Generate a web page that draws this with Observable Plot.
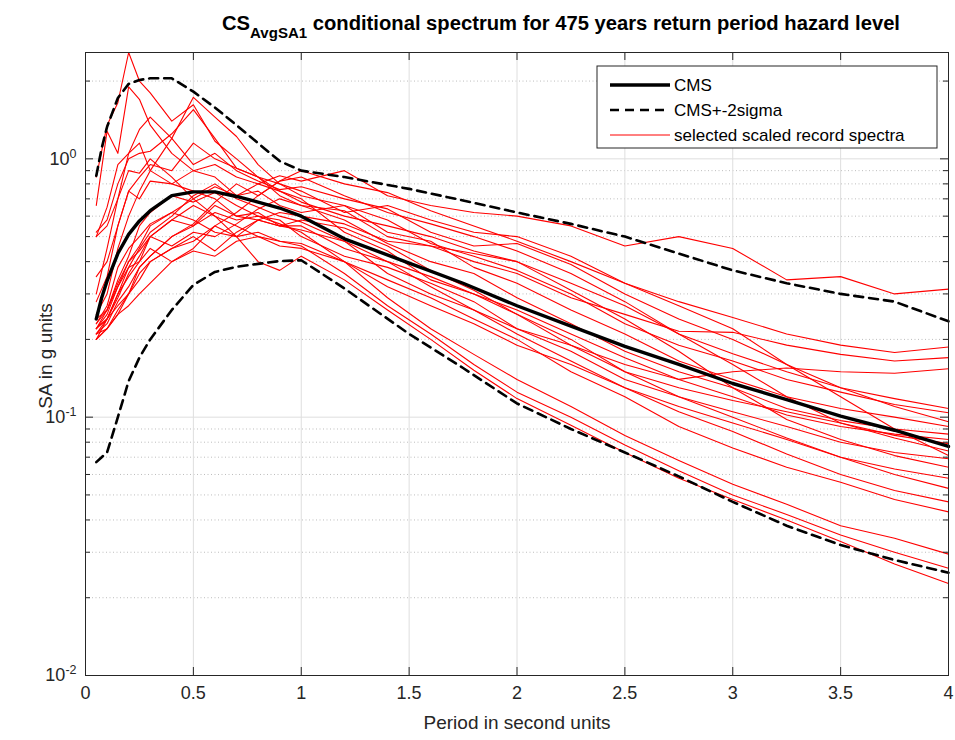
<!DOCTYPE html>
<html>
<head>
<meta charset="utf-8">
<script src="https://cdn.jsdelivr.net/npm/d3@7"></script>
<script src="https://cdn.jsdelivr.net/npm/@observablehq/plot@0.6"></script>
<style>
  body { margin: 0; background: #fff; font-family: "Liberation Sans", Arial, sans-serif; }
  #title { position: relative; width: 955px; height: 45px; }
  #ttl { position: absolute; left: 222px; top: 12px; font-weight: bold; font-size: 19.5px; color: #000;
         white-space: nowrap; transform-origin: 0 0; }
  #ttl sub { font-size: 14.5px; vertical-align: -8px; }
  #chart svg { display: block; }
</style>
</head>
<body>
<div id="title"><div id="ttl">CS<sub>AvgSA1</sub> conditional spectrum for 475 years return period hazard level</div></div>
<div id="chart"></div>
<script>
// ---- axis ticks ----
const xTicks = [0, 0.5, 1, 1.5, 2, 2.5, 3, 3.5, 4];
const yMajor = [0.01, 0.1, 1];
const yMinor = [0.02, 0.03, 0.04, 0.05, 0.06, 0.07, 0.08, 0.09, 0.2, 0.3, 0.4, 0.5, 0.6, 0.7, 0.8, 0.9, 2];

// ---- conditional mean spectrum and +-2 sigma ----
const T = [0.05, 0.075, 0.1, 0.15, 0.2, 0.25, 0.3, 0.4, 0.5, 0.6, 0.7, 0.8, 0.9, 1.0, 1.2, 1.5, 1.75, 2.0, 2.25, 2.5, 2.75, 3.0, 3.25, 3.5, 3.75, 4.0];
const cms = [0.24, 0.29, 0.337, 0.43, 0.51, 0.575, 0.63, 0.72, 0.745, 0.745, 0.715, 0.68, 0.645, 0.60, 0.49, 0.395, 0.33, 0.27, 0.225, 0.188, 0.16, 0.135, 0.117, 0.101, 0.089, 0.077];
const upper = [0.86, 1.10, 1.33, 1.72, 1.95, 2.02, 2.05, 2.05, 1.82, 1.58, 1.35, 1.15, 0.98, 0.90, 0.85, 0.765, 0.69, 0.62, 0.56, 0.50, 0.43, 0.37, 0.33, 0.30, 0.28, 0.235];
const lower = [0.067, 0.070, 0.073, 0.100, 0.138, 0.17, 0.20, 0.26, 0.325, 0.365, 0.382, 0.392, 0.402, 0.405, 0.315, 0.21, 0.155, 0.113, 0.09, 0.073, 0.059, 0.047, 0.038, 0.032, 0.028, 0.025];

// ---- selected scaled record spectra ----
const Tr = [0.05, 0.1, 0.15, 0.2, 0.25, 0.3, 0.4, 0.5, 0.6, 0.7, 0.8, 0.9, 1.0, 1.2, 1.4, 1.6, 1.8, 2.0, 2.25, 2.5, 2.75, 3.0, 3.25, 3.5, 3.75, 4.0];
const rec01 = [0.23,0.27,0.38,0.45,0.50,0.56,0.62,0.70,0.78,0.72,0.80,0.86,0.82,0.90,0.72,0.66,0.62,0.60,0.55,0.46,0.50,0.45,0.34,0.35,0.30,0.313];
const rec02 = [0.28,0.35,0.55,0.75,0.85,0.95,0.90,1.15,1.00,0.92,0.85,0.80,0.75,0.62,0.66,0.58,0.52,0.50,0.42,0.33,0.28,0.243,0.21,0.19,0.178,0.187];
const rec03 = [0.22,0.26,0.33,0.40,0.44,0.50,0.58,0.55,0.66,0.60,0.58,0.62,0.60,0.56,0.48,0.46,0.40,0.36,0.29,0.25,0.215,0.213,0.19,0.175,0.165,0.17];
const rec04 = [0.50,0.65,0.95,1.05,1.15,0.90,0.80,0.75,0.70,0.60,0.62,0.55,0.55,0.45,0.40,0.35,0.30,0.25,0.19,0.16,0.14,0.15,0.155,0.15,0.148,0.154];
const rec05 = [0.85,1.35,1.65,2.58,2.00,1.80,1.40,1.62,1.17,1.00,0.85,0.75,0.68,0.60,0.55,0.50,0.44,0.40,0.33,0.27,0.21,0.176,0.15,0.13,0.118,0.108];
const rec06 = [0.66,1.28,1.05,1.90,1.70,1.35,1.05,0.90,0.85,0.72,0.75,0.66,0.62,0.66,0.58,0.47,0.42,0.37,0.30,0.23,0.19,0.165,0.14,0.125,0.112,0.104];
const rec07 = [0.25,0.30,0.45,0.60,0.75,0.90,1.20,1.73,1.45,1.22,0.95,0.80,0.72,0.66,0.52,0.48,0.38,0.33,0.26,0.21,0.165,0.14,0.12,0.108,0.10,0.092];
const rec08 = [0.52,0.58,0.80,1.00,1.05,1.07,1.25,1.55,1.20,0.92,0.85,0.72,0.66,0.58,0.47,0.40,0.36,0.29,0.23,0.18,0.15,0.13,0.108,0.097,0.09,0.086];
const rec09 = [0.35,0.40,0.55,0.75,0.70,0.82,0.80,0.90,0.95,0.85,0.80,0.75,0.70,0.52,0.44,0.34,0.30,0.26,0.21,0.17,0.14,0.12,0.102,0.092,0.086,0.082];
const rec10 = [0.22,0.24,0.27,0.30,0.34,0.40,0.45,0.50,0.44,0.52,0.58,0.55,0.53,0.48,0.36,0.30,0.26,0.22,0.19,0.15,0.13,0.116,0.105,0.095,0.085,0.079];
const rec11 = [0.21,0.23,0.28,0.32,0.38,0.42,0.50,0.56,0.68,0.80,0.72,0.82,0.85,0.72,0.62,0.56,0.50,0.44,0.36,0.28,0.21,0.16,0.12,0.095,0.083,0.074];
const rec12 = [0.24,0.26,0.34,0.42,0.55,0.62,0.72,0.68,0.74,0.66,0.60,0.58,0.50,0.42,0.38,0.33,0.28,0.22,0.18,0.14,0.12,0.105,0.092,0.08,0.073,0.069];
const rec13 = [0.20,0.24,0.30,0.35,0.40,0.50,0.46,0.52,0.50,0.56,0.64,0.70,0.66,0.63,0.50,0.46,0.43,0.40,0.31,0.24,0.18,0.13,0.098,0.082,0.071,0.064];
const rec14 = [0.30,0.45,0.70,0.90,0.88,1.00,0.85,0.70,0.60,0.50,0.52,0.48,0.47,0.40,0.32,0.27,0.23,0.19,0.16,0.13,0.11,0.095,0.082,0.07,0.063,0.058];
const rec15 = [0.20,0.22,0.26,0.30,0.36,0.40,0.45,0.48,0.55,0.50,0.58,0.55,0.58,0.54,0.46,0.37,0.31,0.25,0.20,0.15,0.12,0.10,0.083,0.07,0.06,0.053];
const rec16 = [0.22,0.24,0.30,0.38,0.45,0.52,0.60,0.72,0.80,0.70,0.65,0.60,0.57,0.48,0.40,0.32,0.26,0.21,0.165,0.13,0.105,0.088,0.072,0.06,0.052,0.047];
const rec17 = [0.21,0.22,0.25,0.27,0.30,0.33,0.40,0.44,0.42,0.48,0.50,0.46,0.45,0.40,0.34,0.29,0.24,0.20,0.15,0.12,0.092,0.076,0.064,0.056,0.048,0.043];
const rec18 = [0.20,0.22,0.25,0.30,0.38,0.42,0.50,0.55,0.62,0.58,0.60,0.56,0.52,0.40,0.29,0.22,0.175,0.14,0.11,0.085,0.068,0.055,0.046,0.038,0.034,0.0295];
const rec19 = [0.21,0.24,0.29,0.36,0.42,0.50,0.58,0.66,0.60,0.55,0.50,0.48,0.46,0.36,0.27,0.21,0.16,0.125,0.10,0.078,0.062,0.05,0.042,0.035,0.03,0.026];
const rec20 = [0.22,0.25,0.32,0.40,0.46,0.55,0.62,0.58,0.52,0.50,0.40,0.37,0.42,0.34,0.26,0.20,0.152,0.118,0.093,0.073,0.058,0.048,0.04,0.033,0.027,0.0227];
const rec21 = [0.50,0.55,0.70,1.05,1.30,1.45,1.20,0.95,1.05,0.90,0.82,0.76,0.78,0.70,0.64,0.52,0.46,0.47,0.39,0.30,0.24,0.20,0.16,0.13,0.11,0.096];
const rec22 = [0.23,0.26,0.32,0.38,0.40,0.45,0.40,0.45,0.55,0.62,0.72,0.82,0.90,0.80,0.74,0.63,0.55,0.48,0.40,0.33,0.27,0.22,0.16,0.12,0.09,0.071];
const records = [rec01, rec02, rec03, rec04, rec05, rec06, rec07, rec08, rec09, rec10, rec11,
                 rec12, rec13, rec14, rec15, rec16, rec17, rec18, rec19, rec20, rec21, rec22];

// ---- build tables ----
const recRows = records.flatMap((r, i) => r.map((v, j) => ({T: Tr[j], v, id: i})));
const cmsRows = T.map((t, i) => ({T: t, v: cms[i]}));
const bandRows = [
  ...T.map((t, i) => ({T: t, v: upper[i], k: "up"})),
  ...T.map((t, i) => ({T: t, v: lower[i], k: "lo"}))
];

const W = 955, H = 695, mL = 85, mR = 7, mT = 7, mB = 65;
const fw = W - mL - mR, fh = H - mT - mB;
const yTop = d3.max([...records.flat(), ...upper]);
const axisColor = "#262626";

const chart = Plot.plot({
  width: W, height: H,
  marginLeft: mL, marginRight: mR, marginTop: mT, marginBottom: mB,
  style: {fontFamily: "Liberation Sans, Arial, sans-serif", fontSize: "18px", color: axisColor, background: "white", overflow: "visible"},
  x: {domain: [0, 4], ticks: xTicks, tickSize: 0, tickPadding: 11, tickFormat: d => String(d), label: null},
  y: {type: "log", domain: [0.01, yTop], ticks: yMajor, tickSize: 0, tickPadding: 9,
      tickFormat: d => "10^" + Math.round(Math.log10(d)), label: null},
  marks: [
    Plot.ruleY(yMinor, {y: d => d, stroke: "#bdbdbd", strokeWidth: 1, strokeDasharray: "1,2.5"}),
    Plot.ruleY(yMajor, {y: d => d, stroke: "#dedede", strokeWidth: 1}),
    Plot.ruleX(xTicks, {x: d => d, stroke: "#dedede", strokeWidth: 1}),
    Plot.line(recRows, {x: "T", y: "v", z: "id", stroke: "#ff0000", strokeWidth: 1.1}),
    Plot.line(bandRows, {x: "T", y: "v", z: "k", stroke: "#000", strokeWidth: 2.6, strokeDasharray: "9,6"}),
    Plot.line(cmsRows, {x: "T", y: "v", stroke: "#000", strokeWidth: 3.4}),
    Plot.tickX(xTicks, {x: d => d, insetTop: fh - 8, stroke: axisColor}),
    Plot.tickX(xTicks, {x: d => d, insetBottom: fh - 8, stroke: axisColor}),
    Plot.tickY(yMajor, {y: d => d, insetRight: fw - 8, stroke: axisColor}),
    Plot.tickY(yMajor, {y: d => d, insetLeft: fw - 8, stroke: axisColor}),
    Plot.tickY(yMinor, {y: d => d, insetRight: fw - 5, stroke: axisColor}),
    Plot.tickY(yMinor, {y: d => d, insetLeft: fw - 5, stroke: axisColor}),
    Plot.frame({stroke: axisColor, strokeWidth: 1}),
    Plot.text(["Period in second units"], {frameAnchor: "bottom", dy: 47, lineAnchor: "middle", textAnchor: "middle", fontSize: 19, fill: axisColor}),
    Plot.text(["SA in g units"], {frameAnchor: "left", dx: -40, dy: -8, rotate: -90, textAnchor: "middle", lineAnchor: "middle", fontSize: 19, fill: axisColor})
  ]
});
document.getElementById("chart").appendChild(chart);

const svg = d3.select(chart.tagName.toLowerCase() === "svg" ? chart : chart.querySelector("svg"));

// superscript exponents on log tick labels
svg.selectAll("text").each(function () {
  const t = this.textContent;
  if (/^10\^-?\d+$/.test(t) && this.children.length === 0) {
    const e = t.split("^")[1];
    this.textContent = "";
    d3.select(this).append("tspan").text("10");
    d3.select(this).append("tspan").attr("dy", "-0.55em").attr("font-size", "12.5px").text(e);
  }
});

// legend
const lg = svg.append("g")
  .attr("font-family", "Liberation Sans, Arial, sans-serif")
  .attr("font-size", "17px").attr("fill", "#000").attr("text-anchor", "start");
const lx = 597, ly = 21, lw = 340, lh = 82;
lg.append("rect").attr("x", lx).attr("y", ly).attr("width", lw).attr("height", lh)
  .attr("fill", "#fff").attr("stroke", "#262626").attr("stroke-width", 1);
const entries = [
  {label: "CMS", stroke: "#000", w: 3.4, dash: null},
  {label: "CMS+-2sigma", stroke: "#000", w: 2.6, dash: "9,6"},
  {label: "selected scaled record spectra", stroke: "#ff0000", w: 1, dash: null}
];
entries.forEach((e, i) => {
  const yy = ly + 19 + i * 25;
  lg.append("line").attr("x1", lx + 13).attr("x2", lx + 73).attr("y1", yy).attr("y2", yy)
    .attr("stroke", e.stroke).attr("stroke-width", e.w).attr("stroke-dasharray", e.dash);
  lg.append("text").attr("x", lx + 77).attr("y", yy).attr("dy", "0.35em")
    .attr("text-anchor", "start").text(e.label);
});

// fit title to the reference width
const ttl = document.getElementById("ttl");
const tw = ttl.getBoundingClientRect().width;
ttl.style.transform = `scaleX(${678 / tw})`;
</script>
</body>
</html>
